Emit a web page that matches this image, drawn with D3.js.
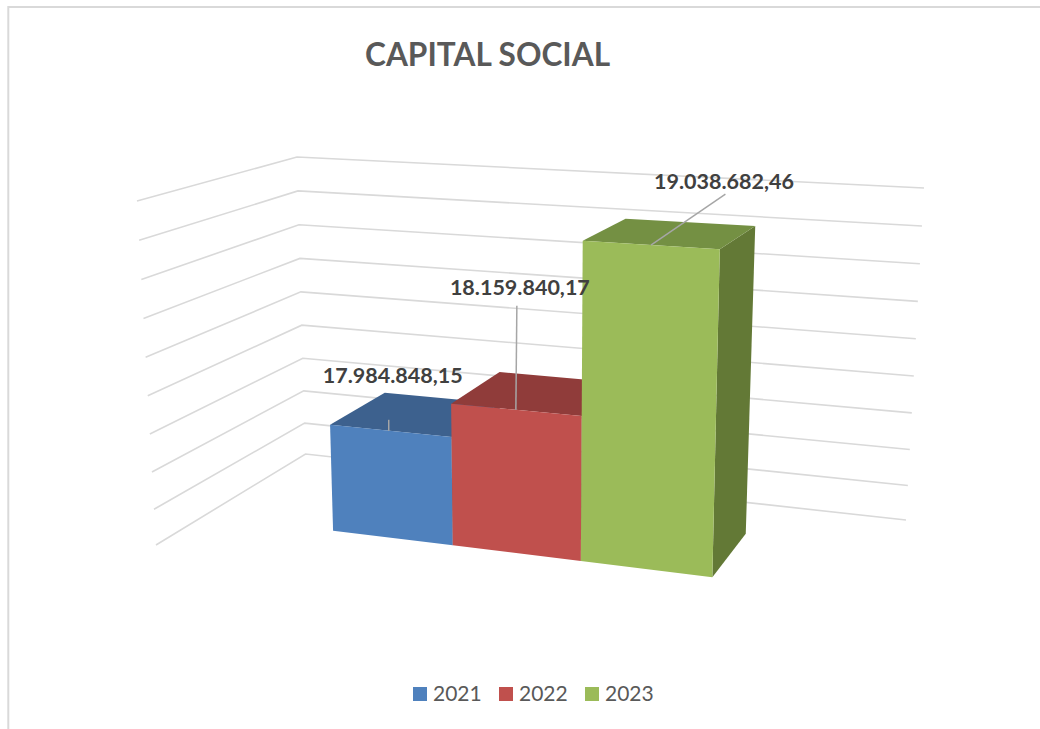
<!DOCTYPE html>
<html>
<head>
<meta charset="utf-8">
<script src="https://cdn.jsdelivr.net/npm/d3@7"></script>
<style>
  body { margin: 0; background: #fff; }
  text { font-family: Lato, "Open Sans", sans-serif; }
</style>
</head>
<body>
<div id="chart"></div>
<script>
var chartTitle = "CAPITAL SOCIAL";
var categories = ["2021", "2022", "2023"];
var capital = [17984848.15, 18159840.17, 19038682.46];
var axisTicks = [17400000, 17600000, 17800000, 18000000, 18200000, 18400000, 18600000, 18800000, 19000000, 19200000];

var width = 1040, height = 729;

var svg = d3.select("#chart").append("svg")
    .attr("width", width)
    .attr("height", height);

// outer corners of the 3d box: back wall is w = 0, open front is w = 1
var box = {
    backBottomLeft: [305.5, 454], backBottomRight: [906, 520],
    backTopLeft: [297, 157], backTopRight: [924, 188],
    frontBottomLeft: [156, 545], frontBottomRight: [843, 633],
    frontTopLeft: [137, 201], frontTopRight: [857, 243]
};

function lerp(a, b, t) {
    return [a[0] + (b[0] - a[0]) * t, a[1] + (b[1] - a[1]) * t];
}

// u along the categories, v up the value axis, w from back to front (all 0..1)
function project(u, v, w) {
    var bottom = lerp(
        lerp(box.backBottomLeft, box.backBottomRight, u),
        lerp(box.frontBottomLeft, box.frontBottomRight, u), w);
    var top = lerp(
        lerp(box.backTopLeft, box.backTopRight, u),
        lerp(box.frontTopLeft, box.frontTopRight, u), w);
    return lerp(bottom, top, v);
}

// value scale, the pow part is the small perspective squeeze towards the floor
var yLinear = d3.scaleLinear()
    .domain([axisTicks[0], axisTicks[axisTicks.length - 1]])
    .range([0, 1]);
var yPersp = d3.scalePow().exponent(1.03).domain([0, 1]).range([0, 1]);
function yScale(d) { return yPersp(yLinear(d)); }

// categories, bars get wider to the right
var xBand = d3.scaleBand().domain(categories).range([0, 1]);
var xPersp = d3.scalePow().exponent(1.05).domain([0, 1]).range([0.194, 0.77]);

// depth of the bars
var frontDepth = 0.67, backDepth = 0.267;

var polyLine = d3.line().curve(d3.curveLinearClosed);

//gridlines on both walls
svg.append("g").selectAll("path")
    .data(axisTicks)
    .enter().append("path")
    .attr("d", function (d) {
        var v = yScale(d);
        return d3.line()([project(0, v, 1), project(0, v, 0), project(1, v, 0)]);
    })
    .attr("fill", "none")
    .attr("stroke", "#d9d9d9")
    .attr("stroke-width", 1.6);

var frontColors = ["#4f81bd", "#c0504d", "#9bbb59"];
var topColors = ["#3d618e", "#903c3a", "#749043"];
var sideColors = ["#345274", "#7a3331", "#637936"];

var bars = svg.append("g");

categories.forEach(function (cat, i) {
    var u0 = xPersp(xBand(cat));
    var u1 = xPersp(xBand(cat) + xBand.bandwidth());
    var v = yScale(capital[i]);

    // side first, then top, front on top of both
    bars.append("path")
        .attr("d", polyLine([project(u1, 0, frontDepth), project(u1, v, frontDepth), project(u1, v, backDepth), project(u1, 0, backDepth)]))
        .attr("fill", sideColors[i]);
    bars.append("path")
        .attr("d", polyLine([project(u0, v, frontDepth), project(u0, v, backDepth), project(u1, v, backDepth), project(u1, v, frontDepth)]))
        .attr("fill", topColors[i]);
    bars.append("path")
        .attr("d", polyLine([project(u0, 0, frontDepth), project(u0, v, frontDepth), project(u1, v, frontDepth), project(u1, 0, frontDepth)]))
        .attr("fill", frontColors[i]);
});

// data labels with leader lines
var fmt = d3.formatLocale({decimal: ",", thousands: ".", grouping: [3], currency: ["", ""]}).format(",.2f");
var leaderEnd = [[0, -11], [1, -104], [74.5, -51]];
var labelShift = [[4, -55], [4, -122], [73, -64]];

var labels = svg.append("g");

categories.forEach(function (cat, i) {
    var uMid = xPersp(xBand(cat) + xBand.bandwidth() / 2);
    var a = project(uMid, yScale(capital[i]), frontDepth);

    labels.append("line")
        .attr("x1", a[0])
        .attr("y1", a[1])
        .attr("x2", a[0] + leaderEnd[i][0])
        .attr("y2", a[1] + leaderEnd[i][1])
        .attr("stroke", "#a6a6a6")
        .attr("stroke-width", 1.5);

    labels.append("text")
        .attr("x", a[0] + labelShift[i][0])
        .attr("y", a[1] + labelShift[i][1])
        .attr("text-anchor", "middle")
        .attr("dy", ".35em")
        .style("font-size", "21.5px")
        .style("font-weight", "bold")
        .style("fill", "#404040")
        .text(fmt(capital[i]));
});

// title
svg.append("text")
    .attr("x", 365)
    .attr("y", 66)
    .style("font-size", "31.6px")
    .style("font-weight", "bold")
    .style("fill", "#595959")
    .text(chartTitle);

// legend
var legend = svg.append("g").selectAll("g")
    .data(categories)
    .enter().append("g")
    .attr("transform", function (d, i) { return "translate(" + (413 + 86 * i) + ",687)"; });

legend.append("rect")
    .attr("width", 14)
    .attr("height", 14)
    .style("fill", function (d, i) { return frontColors[i]; });

legend.append("text")
    .attr("x", 20)
    .attr("y", 14)
    .style("font-size", "21px")
    .style("fill", "#595959")
    .text(function (d) { return d; });

// frame of the chart area, only top and left are in the crop
svg.append("path")
    .attr("d", "M8.3," + height + "V7H" + width)
    .attr("fill", "none")
    .attr("stroke", "#d9d9d9")
    .attr("stroke-width", 2);
</script>
</body>
</html>
